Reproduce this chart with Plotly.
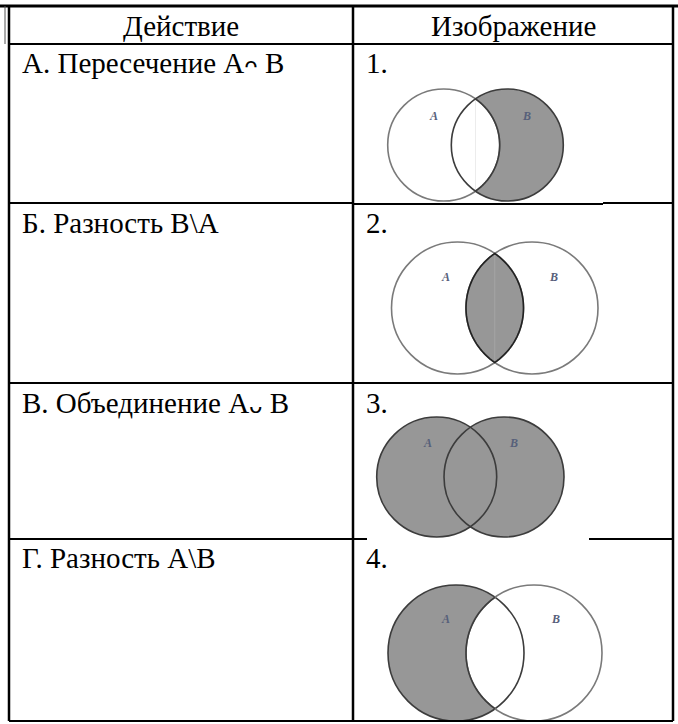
import numpy as np
import plotly.graph_objects as go

# ---- data ----
headers = ["Действие", "Изображение"]
actions = [
    "А. Пересечение А<span style='font-family:DejaVu Sans;font-size:22px'>ᴖ</span> B",
    "Б. Разность В\\А",
    "В. Объединение А<span style='font-family:DejaVu Sans;font-size:22px'>ᴗ</span> B",
    "Г. Разность А\\В",
]
image_numbers = ["1.", "2.", "3.", "4."]
set_labels = ["A", "B"]
shaded_region = ["B_only", "intersection", "union", "A_only"]

# ---- layout geometry (pixel space) ----
W, H = 678, 724
X_LEFT, X_MID, X_RIGHT = 9, 353, 673
Y_TOP, Y_HEAD = 6, 44
ROW_TOPS = [44, 203, 383, 539]
Y_BOTTOM = 721
# venn geometry per row: (cxA, cxB, cy, r)
VENN = [
    (443.7, 507.3, 145, 56),
    (457.5, 532.0, 308, 66),
    (436.7, 504.0, 477, 60),
    (456.0, 534.0, 653, 68),
]
LABEL_POS = [
    ((433, 116), (526, 116)),
    ((445, 277), (553, 277)),
    ((427, 443), (513, 443)),
    ((445, 619), (555, 619)),
]
TEXT_Y = [63, 223, 403, 558]
FILL = "#979797"
EDGE_DARK = "#3c3c3c"
EDGE_LIGHT = "#7a7a7a"
FONT = "Liberation Serif, Times New Roman, serif"
FS = 29

shapes = []
annotations = []


def line(x0, y0, x1, y1, w=2.2, color="black"):
    shapes.append(dict(type="line", x0=x0, y0=y0, x1=x1, y1=y1,
                       line=dict(color=color, width=w)))


def arc(cx, cy, r, t0, t1, n=90):
    t = np.linspace(t0, t1, n)
    return list(zip(cx + r * np.cos(t), cy + r * np.sin(t)))


def path(pts, close=True):
    s = "M " + " L ".join(f"{x:.2f},{y:.2f}" for x, y in pts)
    return s + (" Z" if close else "")


for i, (x1, x2, cy, r) in enumerate(VENN):
    kind = shaded_region[i]
    a = (x2 - x1) / 2.0
    h = np.sqrt(r * r - a * a)
    p1 = np.arctan2(h, a)    # angle on A of bottom intersection
    p2 = np.arctan2(h, -a)   # angle on B of bottom intersection
    A_right = arc(x1, cy, r, -p1, p1)                 # top -> bottom via right side of A
    B_left = arc(x2, cy, r, p2, 2 * np.pi - p2)       # bottom -> top via left side of B
    if kind == "B_only":
        fills = [path(arc(x2, cy, r, -p2, p2) + A_right[::-1])]
    elif kind == "A_only":
        fills = [path(arc(x1, cy, r, -p1, p1 - 2 * np.pi) + B_left)]
    elif kind == "intersection":
        fills = [path(A_right + B_left)]
    else:
        fills = [path(arc(x1, cy, r, 0, 2 * np.pi)), path(arc(x2, cy, r, 0, 2 * np.pi))]
    for f in fills:
        shapes.append(dict(type="path", path=f, fillcolor=FILL, line=dict(width=0)))
    # faint scan seam in the middle of the picture
    if kind == "B_only":
        line((x1 + x2) / 2, cy - h, (x1 + x2) / 2, cy + h, w=1, color="#ececec")
    elif kind == "intersection":
        line((x1 + x2) / 2, cy - h, (x1 + x2) / 2, cy + h, w=1, color="#a4a4a4")
    colA = EDGE_DARK if kind in ("A_only", "union") else EDGE_LIGHT
    colB = EDGE_DARK if kind in ("B_only", "union") else EDGE_LIGHT
    shapes.append(dict(type="circle", x0=x1 - r, x1=x1 + r, y0=cy - r, y1=cy + r,
                       line=dict(color=colA, width=1.6)))
    shapes.append(dict(type="circle", x0=x2 - r, x1=x2 + r, y0=cy - r, y1=cy + r,
                       line=dict(color=colB, width=1.6)))
    if kind == "B_only":
        shapes.append(dict(type="path", path=path(A_right, close=False),
                           line=dict(color=EDGE_DARK, width=1.6)))
    elif kind == "A_only":
        shapes.append(dict(type="path", path=path(B_left, close=False),
                           line=dict(color=EDGE_DARK, width=1.6)))
    elif kind == "intersection":
        shapes.append(dict(type="path", path=path(A_right + B_left),
                           line=dict(color="#222222", width=1.6)))
    for lbl, (lx, ly) in zip(set_labels, LABEL_POS[i]):
        annotations.append(dict(x=lx, y=ly, text=f"<i><b>{lbl}</b></i>", showarrow=False,
                                xanchor="center", yanchor="middle",
                                font=dict(family=FONT, size=12, color="#56607a")))

# table lines
line(0, Y_TOP, W, Y_TOP, w=3)
line(5, Y_TOP, 5, Y_HEAD, w=1, color="#555555")
line(X_LEFT, Y_TOP, X_LEFT, Y_BOTTOM, w=2.5)
line(X_MID, Y_TOP, X_MID, Y_BOTTOM, w=2.5)
line(X_RIGHT, Y_TOP, X_RIGHT, Y_BOTTOM, w=2.5)
line(X_LEFT, Y_HEAD, X_RIGHT, Y_HEAD, w=2.2)
line(X_LEFT, ROW_TOPS[1], X_MID, ROW_TOPS[1])
line(X_MID, ROW_TOPS[1] + 1, 603, ROW_TOPS[1] + 1)
line(603, ROW_TOPS[1], X_RIGHT, ROW_TOPS[1])
line(X_LEFT, ROW_TOPS[2], X_RIGHT, ROW_TOPS[2])
line(X_LEFT, ROW_TOPS[3], 367, ROW_TOPS[3])
line(589, ROW_TOPS[3], X_RIGHT, ROW_TOPS[3])
line(X_LEFT, Y_BOTTOM, X_RIGHT, Y_BOTTOM)

annotations.append(dict(x=(X_LEFT + X_MID) / 2, y=26, text=headers[0], showarrow=False,
                        xanchor="center", yanchor="middle",
                        font=dict(family=FONT, size=FS, color="black")))
annotations.append(dict(x=(X_MID + X_RIGHT) / 2, y=26, text=headers[1], showarrow=False,
                        xanchor="center", yanchor="middle",
                        font=dict(family=FONT, size=FS, color="black")))

for i in range(4):
    annotations.append(dict(x=20, y=TEXT_Y[i], text=actions[i], showarrow=False,
                            xanchor="left", yanchor="middle",
                            font=dict(family=FONT, size=FS, color="black")))
    annotations.append(dict(x=364, y=TEXT_Y[i], text=image_numbers[i], showarrow=False,
                            xanchor="left", yanchor="middle",
                            font=dict(family=FONT, size=FS, color="black")))

fig = go.Figure()
fig.update_layout(
    width=W, height=H, margin=dict(l=0, r=0, t=0, b=0),
    paper_bgcolor="white", plot_bgcolor="white",
    xaxis=dict(range=[0, W], visible=False, fixedrange=True),
    yaxis=dict(range=[H, 0], visible=False, fixedrange=True),
    shapes=shapes, annotations=annotations, showlegend=False,
)
fig.write_html("out.html", config={"displayModeBar": False},
               post_script="document.body.style.margin='0';document.body.style.overflow='hidden';")
